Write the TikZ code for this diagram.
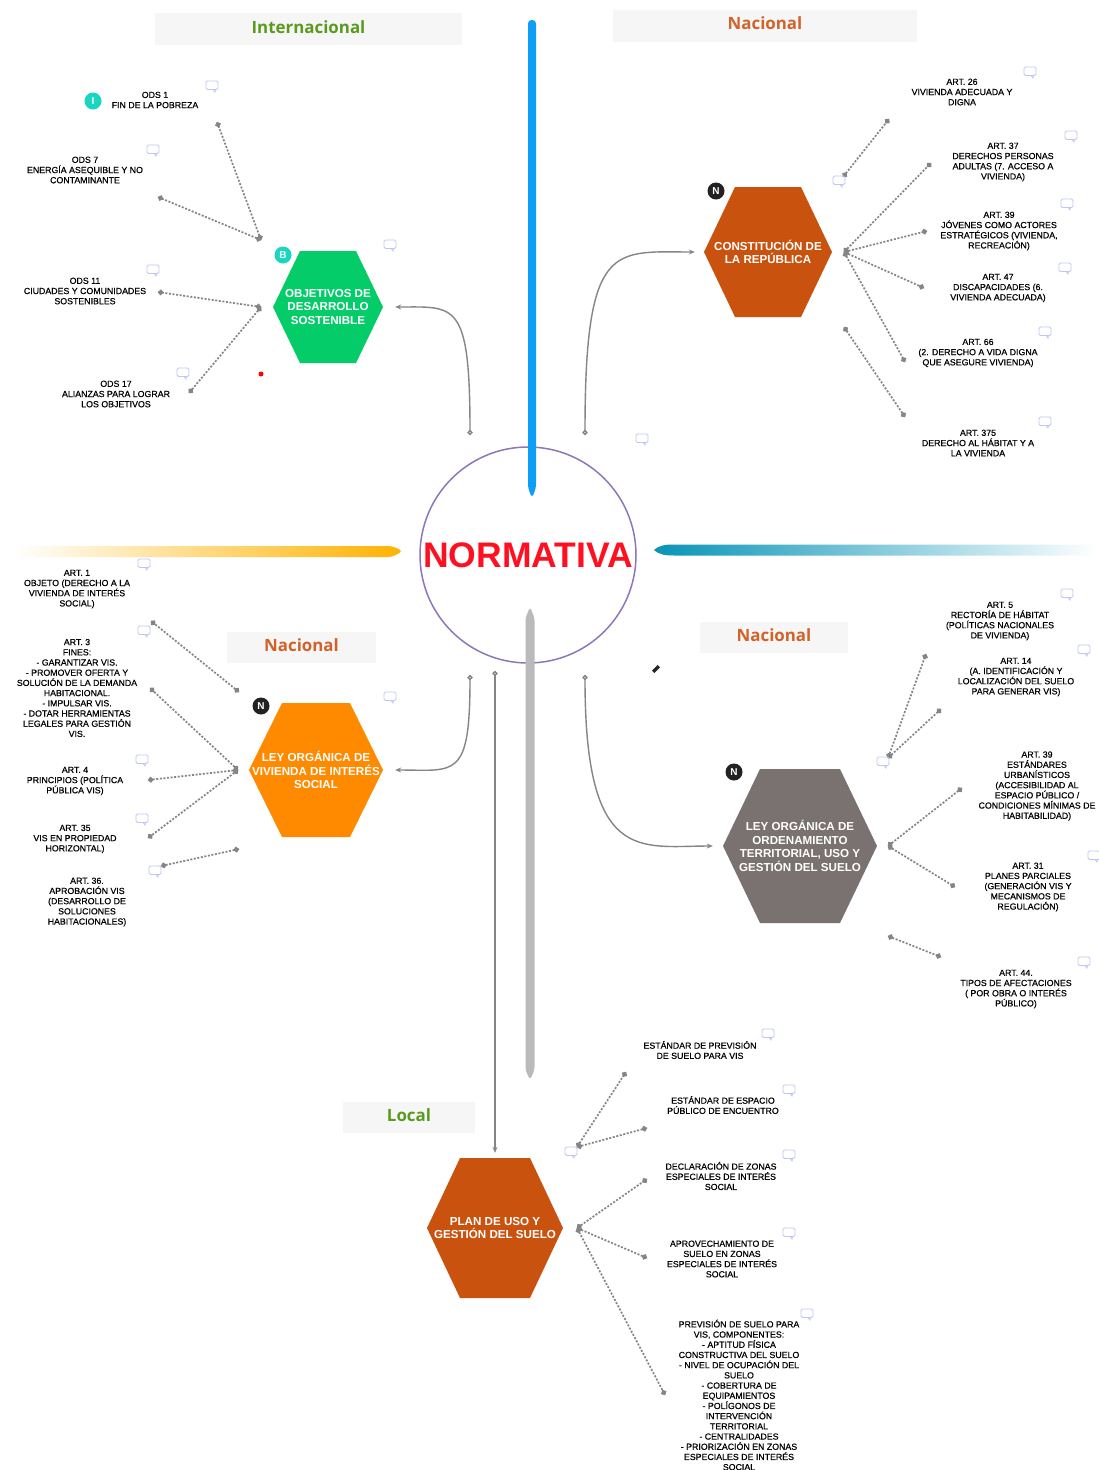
\documentclass[tikz,border=0pt]{standalone}
\usepackage{fontspec}
\setmainfont{Liberation Sans}
\newfontfamily\titlefont{Open Sans}
\newfontfamily\leaffont[FakeBold=0.5]{Liberation Sans}
\usetikzlibrary{arrows.meta}
\definecolor{titleg}{HTML}{5A9A1E}
\definecolor{titleo}{HTML}{D2622A}
\definecolor{boxg}{HTML}{F6F6F6}
\definecolor{lineg}{HTML}{858585}
\definecolor{cmtc}{HTML}{C2C6F6}
\definecolor{hexgreen}{HTML}{03CC69}
\definecolor{hexrust}{HTML}{C9520F}
\definecolor{hexorange}{HTML}{FF8A00}
\definecolor{hexgrey}{HTML}{7A7271}
\definecolor{circc}{HTML}{8E76BA}
\definecolor{bluebar}{HTML}{0E9EF6}
\definecolor{orangebar}{HTML}{FFB200}
\definecolor{tealbar}{HTML}{0894B6}
\definecolor{greybar}{HTML}{BABABA}
\definecolor{redtext}{HTML}{FF1020}
\definecolor{teal1}{HTML}{18D6C0}
\definecolor{dark1}{HTML}{222222}
\tikzset{
 leaf/.style={align=center,inner sep=0pt,text=black,font=\fontsize{8.8}{10.2}\leaffont\selectfont},
 hextext/.style={align=center,inner sep=0pt,text=white,font=\fontsize{11.6}{13.4}\selectfont\bfseries},
 titlebox/.style={fill=boxg,inner sep=0pt,align=center,font=\fontsize{16.9}{18}\selectfont\titlefont\bfseries},
 branch/.style={draw=lineg,line width=1.7pt,dash pattern=on 2pt off 1.6pt,{Circle[length=5.5pt,fill=lineg]}-{Circle[length=5.5pt,fill=lineg]}},
 trunk/.style={draw=lineg,line width=1.4pt,{Circle[length=5pt,fill=white]}-{Stealth[length=6pt,width=5pt]}},
 badge/.style={circle,minimum size=17pt,inner sep=0pt,text=white,font=\fontsize{10}{10}\selectfont\bfseries},
 cmt/.pic={\draw[cmtc,line width=0.8pt,rounded corners=1.5pt] (-6,-5) rectangle (6,3.5);\draw[cmtc,line width=0.8pt] (1,3.5)--(3,6)--(3.5,3.5);}
}
\newcommand{\hexa}[8]{%
 \fill[#7] ({#2-#4},#3)--({#2-#6},{#3-#5})--({#2+#6},{#3-#5})--({#2+#4},#3)--({#2+#6},{#3+#5})--({#2-#6},{#3+#5})--cycle;
 \node[hextext,minimum width=#4*2pt,minimum height=#5*2pt] (#1) at (#2,#3) {#8};}
\begin{document}
\begin{tikzpicture}[x=1pt,y=-1pt]
\useasboundingbox[fill=white] (0,0) rectangle (1098,1470);
% title boxes
\node[titlebox,text=titleg,minimum width=307pt,minimum height=32pt] (tint) at (308.5,29) {\raisebox{3pt}{Internacional}};
\node[titlebox,text=titleo,minimum width=304pt,minimum height=32pt] (tnac1) at (765,26) {\raisebox{5pt}{Nacional}};
\node[titlebox,text=titleo,minimum width=149pt,minimum height=31pt] (tnac2) at (301.5,647.5) {\raisebox{4pt}{Nacional}};
\node[titlebox,text=titleo,minimum width=148pt,minimum height=31pt] (tnac3) at (774,637.5) {\raisebox{4pt}{Nacional}};
\node[titlebox,text=titleg,minimum width=132pt,minimum height=31pt] (tloc) at (409,1117.5) {\raisebox{5pt}{Local}};
% central circle
\node[circle,draw=circc,line width=1.5pt,minimum size=216pt,inner sep=0pt] (centro) at (528,555) {};
% bars
\path[fill=bluebar,rounded corners=3.5pt] (528,20)--(536,20)--(536,488)--(532,498)--(528,488)--cycle;
\path[left color=white,right color=orangebar,rounded corners=4pt] (15,546)--(392,546)--(403,551)--(392,557)--(15,557)--cycle;
\path[left color=tealbar,right color=white] (654,550)..controls (660,545) and (665,544.5)..(675,544.5)--(1098,544.5)--(1098,555.5)--(675,555.5)..controls (665,555.5) and (660,555)..(654,550)--cycle;
\path[fill=greybar,rounded corners=3pt] (530,607)--(534.5,618)--(534.5,1070)--(530,1080)--(525.5,1070)--(525.5,618)--cycle;
\node[text=redtext,inner sep=0pt,font=\fontsize{35.5}{36}\selectfont\bfseries] (normativa) at (528,555) {NORMATIVA};
% hexagons
\hexa{obj}{328}{307}{55}{56}{28}{hexgreen}{OBJETIVOS DE\\DESARROLLO\\SOSTENIBLE}
\hexa{cons}{768}{252}{64}{65}{33}{hexrust}{CONSTITUCIÓN DE\\LA REPÚBLICA}
\hexa{lvis}{316}{770}{67}{67}{34}{hexorange}{LEY ORGÁNICA DE\\VIVIENDA DE INTERÉS\\SOCIAL}
\hexa{lots}{800}{846}{77}{77}{40}{hexgrey}{LEY ORGÁNICA DE\\ORDENAMIENTO\\TERRITORIAL, USO Y\\GESTIÓN DEL SUELO}
\hexa{pugs}{495}{1228}{68}{70}{35}{hexrust}{PLAN DE USO Y\\GESTIÓN DEL SUELO}
% trunk connectors
\coordinate (s1) at (470,435);\coordinate (s2) at (585,435);\coordinate (s3) at (470,675);\coordinate (s4) at (585,675);\coordinate (s5) at (495,671);
\draw[trunk,shorten >=12pt] (s1) .. controls +(0,-135) and +(72,0) .. (obj.east);
\draw[trunk,shorten >=9pt] (s2) .. controls +(0,-195) and +(-90,0) .. (cons.west);
\draw[trunk,shorten >=12pt] (s3) .. controls +(0,105) and +(72,0) .. (lvis.east);
\draw[trunk,shorten >=10pt] (s4) .. controls +(0,190) and +(-83,0) .. (lots.west);
\draw[trunk,shorten >=5pt] (s5) -- (pugs.north);
% hubs
\coordinate (h1) at (261,240);\coordinate (h2) at (261,307);
\coordinate (a1) at (217,122);\coordinate (a2) at (158,197);\coordinate (a3) at (158,292);\coordinate (a4) at (189,393);
\draw[branch] (h1)--(a1);\draw[branch] (h1)--(a2);\draw[branch] (h2)--(a3);\draw[branch] (h2)--(a4);
\coordinate (h3) at (843,177);\coordinate (h4) at (844,252);\coordinate (h5) at (844,327);
\coordinate (b1) at (889,119);\coordinate (b2) at (931,163);\coordinate (b3) at (927,231);\coordinate (b4) at (924,288);\coordinate (b5) at (905,362);\coordinate (b6) at (905,417);
\draw[branch] (h3)--(b1);\draw[branch] (h4)--(b2);\draw[branch] (h4)--(b3);\draw[branch] (h4)--(b4);\draw[branch] (h4)--(b5);\draw[branch] (h5)--(b6);
\coordinate (h6) at (239,692);\coordinate (h7) at (238,770);\coordinate (h8) at (239,849);
\coordinate (c1) at (151,621);\coordinate (c2) at (150,688);\coordinate (c3) at (148,780);\coordinate (c4) at (148,838);\coordinate (c5) at (161,866);
\draw[branch] (h6)--(c1);\draw[branch] (h7)--(c2);\draw[branch] (h7)--(c3);\draw[branch] (h7)--(c4);\draw[branch] (h8)--(c5);
\coordinate (h9) at (888,758);\coordinate (h10) at (888,846);\coordinate (h11) at (888,936);
\coordinate (d1) at (926,654);\coordinate (d2) at (941,709);\coordinate (d3) at (962,788);\coordinate (d4) at (955,887);\coordinate (d5) at (941,957);
\draw[branch] (h9)--(d1);\draw[branch] (h9)--(d2);\draw[branch] (h10)--(d3);\draw[branch] (h10)--(d4);\draw[branch] (h11)--(d5);
\coordinate (h12) at (577,1147);\coordinate (h13) at (577,1228);
\coordinate (e1) at (626,1072);\coordinate (e2) at (647,1128);\coordinate (e3) at (647,1179);\coordinate (e4) at (647,1258);\coordinate (e5) at (665,1395);
\draw[branch] (h12)--(e1);\draw[branch] (h12)--(e2);\draw[branch] (h13)--(e3);\draw[branch] (h13)--(e4);\draw[branch] (h13)--(e5);
% leaves: internacional
\node[leaf] (t1) at (155,100) {ODS 1\\FIN DE LA POBREZA};
\node[leaf] (t2) at (85,170) {ODS 7\\ENERGÍA ASEQUIBLE Y NO\\CONTAMINANTE};
\node[leaf] (t3) at (85,291) {ODS 11\\CIUDADES Y COMUNIDADES\\SOSTENIBLES};
\node[leaf] (t4) at (116,394) {ODS 17\\ALIANZAS PARA LOGRAR\\LOS OBJETIVOS};
% constitucion
\node[leaf] (t5) at (962,92) {ART. 26\\VIVIENDA ADECUADA Y\\DIGNA};
\node[leaf] (t6) at (1003,162) {ART. 37\\DERECHOS PERSONAS\\ADULTAS (7. ACCESO A\\VIVIENDA)};
\node[leaf] (t7) at (999,231) {ART. 39\\JÓVENES COMO ACTORES\\ESTRATÉGICOS (VIVIENDA,\\RECREACIÓN)};
\node[leaf] (t8) at (998,288) {ART. 47\\DISCAPACIDADES (6.\\VIVIENDA ADECUADA)};
\node[leaf] (t9) at (978,353) {ART. 66\\(2. DERECHO A VIDA DIGNA\\QUE ASEGURE VIVIENDA)};
\node[leaf] (t10) at (978,443) {ART. 375\\DERECHO AL HÁBITAT Y A\\LA VIVIENDA};
% ley vivienda
\node[leaf] (t11) at (77,589) {ART. 1\\OBJETO (DERECHO A LA\\VIVIENDA DE INTERÉS\\SOCIAL)};
\node[leaf] (t12) at (77,688) {ART. 3\\FINES:\\- GARANTIZAR VIS.\\- PROMOVER OFERTA Y\\SOLUCIÓN DE LA DEMANDA\\HABITACIONAL.\\- IMPULSAR VIS.\\- DOTAR HERRAMIENTAS\\LEGALES PARA GESTIÓN\\VIS.};
\node[leaf] (t13) at (75,781) {ART. 4\\PRINCIPIOS (POLÍTICA\\PÚBLICA  VIS)};
\node[leaf] (t14) at (75,839) {ART. 35\\VIS EN PROPIEDAD\\HORIZONTAL)};
\node[leaf] (t15) at (87,902) {ART. 36.\\APROBACIÓN VIS\\(DESARROLLO DE\\SOLUCIONES\\HABITACIONALES)};
% ley ordenamiento
\node[leaf] (t16) at (1000,621) {ART. 5\\RECTORÍA DE HÁBITAT\\(POLÍTICAS NACIONALES\\DE VIVIENDA)};
\node[leaf] (t17) at (1016,677) {ART. 14\\(A. IDENTIFICACIÓN Y\\LOCALIZACIÓN DEL SUELO\\PARA GENERAR VIS)};
\node[leaf] (t18) at (1037,786) {ART. 39\\ESTÁNDARES\\URBANÍSTICOS\\(ACCESIBILIDAD AL\\ESPACIO PÚBLICO /\\CONDICIONES MÍNIMAS DE\\HABITABILIDAD)};
\node[leaf] (t19) at (1028,887) {ART. 31\\PLANES PARCIALES\\(GENERACIÓN VIS Y\\MECANISMOS DE\\REGULACIÓN)};
\node[leaf] (t20) at (1016,989) {ART. 44.\\TIPOS DE AFECTACIONES\\( POR OBRA O INTERÉS\\PÚBLICO)};
% plan
\node[leaf] (t21) at (700,1050) {ESTÁNDAR DE PREVISIÓN\\DE SUELO PARA VIS};
\node[leaf] (t22) at (723,1105) {ESTÁNDAR DE ESPACIO\\PÚBLICO DE ENCUENTRO};
\node[leaf] (t23) at (721,1176) {DECLARACIÓN DE ZONAS\\ESPECIALES DE INTERÉS\\SOCIAL};
\node[leaf] (t24) at (722,1259) {APROVECHAMIENTO DE\\SUELO EN ZONAS\\ESPECIALES DE INTERÉS\\SOCIAL};
\node[leaf] (t25) at (739,1395) {PREVISIÓN DE SUELO PARA\\VIS, COMPONENTES:\\- APTITUD FÍSICA\\CONSTRUCTIVA DEL SUELO\\- NIVEL DE OCUPACIÓN DEL\\SUELO\\- COBERTURA DE\\EQUIPAMIENTOS\\- POLÍGONOS DE\\INTERVENCIÓN\\TERRITORIAL\\- CENTRALIDADES\\- PRIORIZACIÓN EN ZONAS\\ESPECIALES DE INTERÉS\\SOCIAL};
% comment icons
\foreach \p in {(212,86),(153,150),(390,245),(153,270),(183,373),(1030,72),(1071,136),(1067,204),(1065,268),(1045,332),(1045,422),(839,181),(642,439),(144,564),(144,631),(390,697),(142,760),(142,819),(155,871),(1067,594),(1084,650),(883,762),(1094,856),(1084,962),(768,1034),(789,1090),(789,1155),(789,1233),(807,1314),(571,1152)}
 \pic at \p {cmt};
% badges
\node[badge,fill=teal1] (bi) at (93,101) {I};
\node[badge,fill=teal1] (bb) at (283,255) {B};
\node[badge,fill=dark1] (n1) at (716,191) {N};
\node[badge,fill=dark1] (n2) at (261,706) {N};
\node[badge,fill=dark1] (n3) at (734,772) {N};
% red dot and pencil
\node[circle,fill=red,minimum size=5pt,inner sep=0pt] (reddot) at (261,374) {};
\node[fill=black!85,minimum width=8pt,minimum height=3.5pt,inner sep=0pt,rotate=45] (pencil) at (656,669) {};
\end{tikzpicture}
\end{document}
